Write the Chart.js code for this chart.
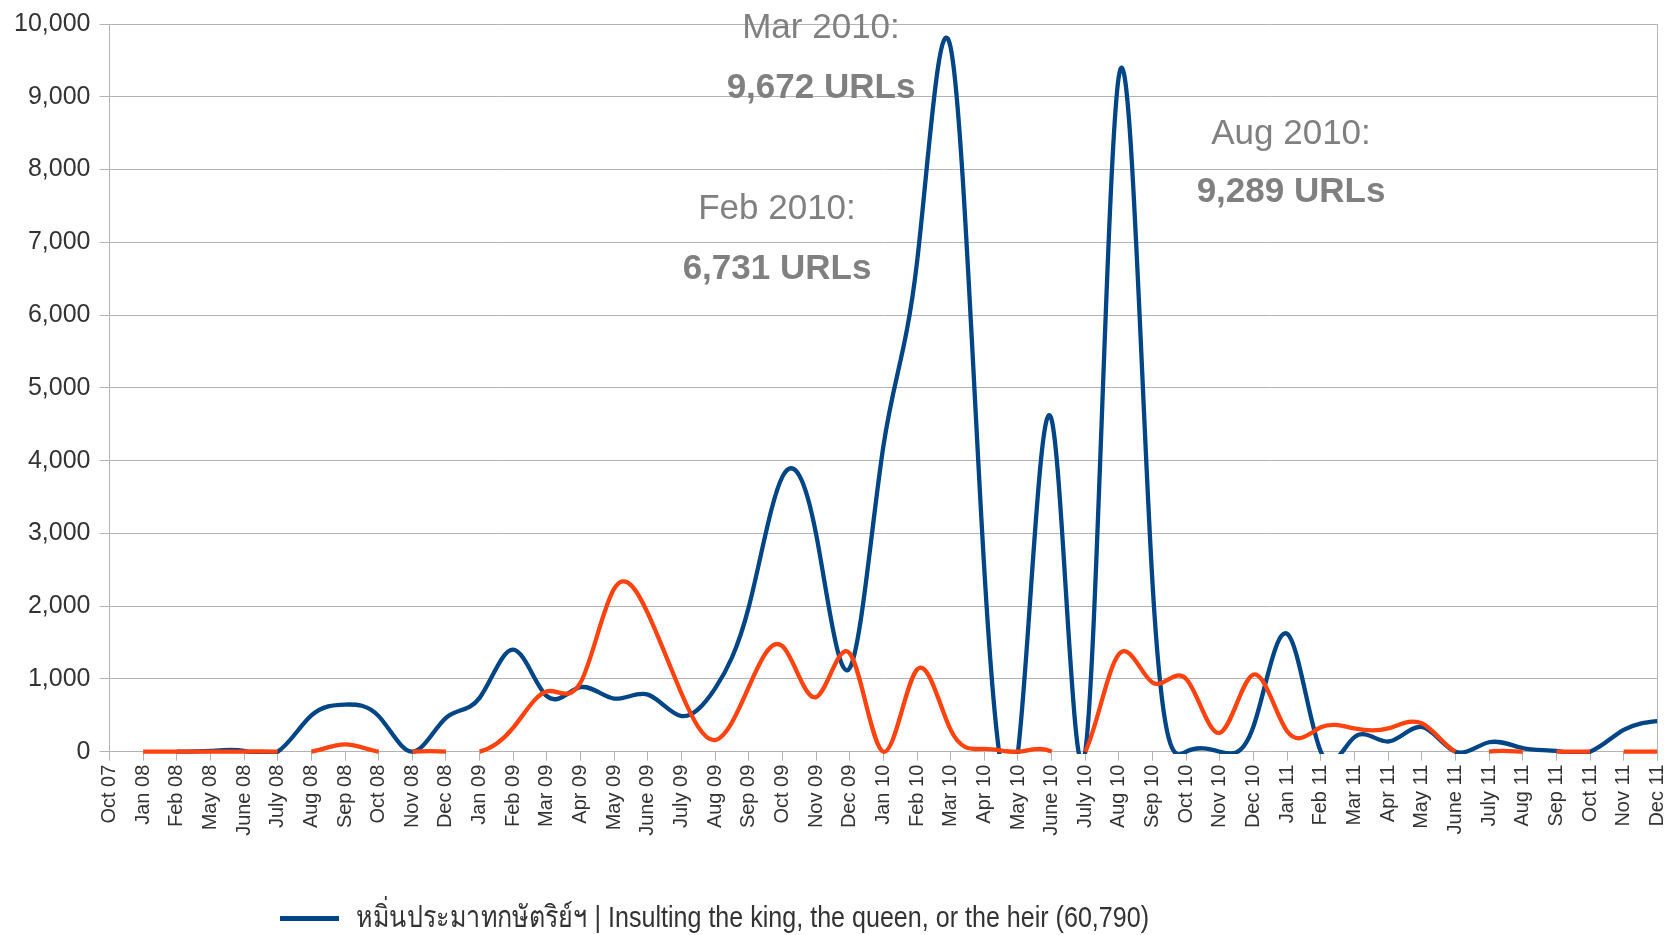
<!DOCTYPE html>
<html>
<head>
<meta charset="utf-8">
<script src="https://cdn.jsdelivr.net/npm/chart.js@4.4.1/dist/chart.umd.min.js"></script>
<style>
  html, body { margin: 0; padding: 0; background: #ffffff; overflow: hidden; }
  #wrap { position: relative; width: 1671px; height: 935px; }
  canvas { display: block; }
</style>
</head>
<body>
<div id="wrap"><canvas id="chart" width="1671" height="935"></canvas></div>
<script>
// ---------------- data ----------------
const categories = ['Oct 07','Jan 08','Feb 08','May 08','June 08','July 08','Aug 08','Sep 08','Oct 08','Nov 08','Dec 08',
  'Jan 09','Feb 09','Mar 09','Apr 09','May 09','June 09','July 09','Aug 09','Sep 09','Oct 09','Nov 09','Dec 09',
  'Jan 10','Feb 10','Mar 10','Apr 10','May 10','June 10','July 10','Aug 10','Sep 10','Oct 10','Nov 10','Dec 10',
  'Jan 11','Feb 11','Mar 11','Apr 11','May 11','June 11','July 11','Aug 11','Sep 11','Oct 11','Nov 11','Dec 11'];

const insultingUrls = [null, 0, 0, 10, 10, 0, 498, 648, 489, 0, 466,
  740, 1402, 762, 886, 730, 785, 490, 870, 1990, 3780, 2990, 1150,
  4200, 6731, 9672, 2500, 0, 4560, 0, 9289, 2300, 0, 0, 350,
  1620, 0, 200, 140, 340, 0, 130, 50, 10, 0, 300, 420];

const otherUrls = [null, 2, 2, 2, 2, 0, 0, 100, 0, 0, 0,
  0, 330, 830, 950, 2240, 1900, 800, 160, 890, 1450, 750, 1350,
  0, 1130, 300, 40, 0, 0, 0, 1340, 950, 1000, 260, 1060,
  280, 335, 320, 320, 390, 0, 0, 0, 0, 0, 0, 0];

const seriesLabels = ['หมิ่นประมาทกษัตริย์ฯ | Insulting the king, the queen, or the heir (60,790)', 'Other'];
const seriesColors = ['#004586', '#ff420e'];

const yTickValues = [0, 1000, 2000, 3000, 4000, 5000, 6000, 7000, 8000, 9000, 10000];

const calloutTitles = ['Mar 2010:', 'Feb 2010:', 'Aug 2010:'];
const calloutValues = ['9,672 URLs', '6,731 URLs', '9,289 URLs'];

// ---------------- natural cubic spline (uniform x) ----------------
function naturalSecondDerivs(f) {
  const n = f.length;
  const M = new Array(n).fill(0);
  if (n < 3) return M;
  const m = n - 2;
  const a = [], b = [], c = [], d = [];
  for (let i = 1; i <= n - 2; i++) {
    a.push(1); b.push(4); c.push(1);
    d.push(6 * (f[i + 1] - 2 * f[i] + f[i - 1]));
  }
  for (let i = 1; i < m; i++) {
    const w = a[i] / b[i - 1];
    b[i] -= w * c[i - 1];
    d[i] -= w * d[i - 1];
  }
  const x = new Array(m);
  x[m - 1] = d[m - 1] / b[m - 1];
  for (let i = m - 2; i >= 0; i--) x[i] = (d[i] - c[i] * x[i + 1]) / b[i];
  for (let i = 0; i < m; i++) M[i + 1] = x[i];
  return M;
}

const splinePlugin = {
  id: 'naturalSpline',
  beforeDatasetDraw(chart, args) {
    const meta = args.meta;
    const line = meta.dataset;
    const pts = meta.data;
    const vals = chart.data.datasets[args.index].data;
    const xs = chart.scales.x, ys = chart.scales.y;
    const hidden = [];
    let k = 0;
    while (k < vals.length) {
      if (vals[k] === null) { k++; continue; }
      let e = k;
      while (e + 1 < vals.length && vals[e + 1] !== null) e++;
      const f = vals.slice(k, e + 1);
      const M = naturalSecondDerivs(f);
      for (let j = 0; j < f.length - 1; j++) {
        const i = k + j;
        const y0 = f[j], y1 = f[j + 1], M0 = M[j], M1 = M[j + 1];
        const D0 = (y1 - y0) - (2 * M0 + M1) / 6;
        const D1 = (y1 - y0) + (M0 + 2 * M1) / 6;
        pts[i].cp2x = xs.getPixelForValue(i + 1 / 3);
        pts[i].cp2y = ys.getPixelForValue(y0 + D0 / 3);
        pts[i + 1].cp1x = xs.getPixelForValue(i + 1 - 1 / 3);
        pts[i + 1].cp1y = ys.getPixelForValue(y1 - D1 / 3);
        if (y0 === 0 && y1 === 0) {
          let mn = 0, mx = 0;
          for (let s = 0.02; s < 1; s += 0.02) {
            const v = -(s * (1 - s) / 6) * (M0 * (2 - s) + M1 * (1 + s));
            if (v < mn) mn = v;
            if (v > mx) mx = v;
          }
          hidden[i] = (mn < -1e-9 && mx <= 1e-9);
        }
      }
      pts[k].cp1x = pts[k].x; pts[k].cp1y = pts[k].y;
      pts[e].cp2x = pts[e].x; pts[e].cp2y = pts[e].y;
      k = e + 1;
    }
    chart.$splineHidden = chart.$splineHidden || {};
    chart.$splineHidden[args.index] = hidden;
    line._pointsUpdated = true;
    line._segments = undefined;
    line._path = undefined;
  }
};

function segColor(ctx) {
  const h = ctx.chart.$splineHidden && ctx.chart.$splineHidden[ctx.datasetIndex];
  if (h && h[ctx.p0DataIndex]) return 'rgba(0,0,0,0)';
  return seriesColors[ctx.datasetIndex];
}

// ---------------- overlay texts (callouts + legend) ----------------
const overlayPlugin = {
  id: 'overlayText',
  afterDraw(chart) {
    const c = chart.ctx;
    c.save();
    const pos = [
      { x: 821, y1: 37.5, y2: 97.5 },
      { x: 777, y1: 218.5, y2: 278.5 },
      { x: 1291, y1: 143.5, y2: 202 }
    ];
    c.fillStyle = '#808080';
    c.textAlign = 'center';
    c.textBaseline = 'alphabetic';
    calloutTitles.forEach((t, i) => {
      c.font = '35px "Liberation Sans", Arial, sans-serif';
      c.fillText(t, pos[i].x, pos[i].y1);
      c.font = 'bold 35px "Liberation Sans", Arial, sans-serif';
      c.fillText(calloutValues[i], pos[i].x, pos[i].y2);
    });
    // legend (first series)
    c.strokeStyle = seriesColors[0];
    c.lineWidth = 5;
    c.beginPath();
    c.moveTo(280, 918.5);
    c.lineTo(339, 918.5);
    c.stroke();
    c.fillStyle = '#333333';
    c.textAlign = 'left';
    c.textBaseline = 'middle';
    c.font = '30px "Liberation Sans Narrow", "Arial Narrow", "Liberation Sans", sans-serif';
    c.fillText(seriesLabels[0], 356, 919, 793);
    c.restore();
  }
};

// ---------------- chart ----------------
const gridGray = '#b3b3b3';
const lastIdx = categories.length - 1;

new Chart(document.getElementById('chart'), {
  type: 'line',
  data: {
    labels: categories,
    datasets: [
      {
        label: seriesLabels[0],
        data: insultingUrls,
        borderColor: seriesColors[0],
        backgroundColor: seriesColors[0],
        borderWidth: 4.3,
        tension: 0.4,
        pointRadius: 0,
        pointHoverRadius: 0,
        spanGaps: false,
        fill: false,
        order: 1,
        borderJoinStyle: 'round',
        clip: { left: 0, top: 0, right: 0, bottom: 2.2 },
        segment: { borderColor: segColor }
      },
      {
        label: seriesLabels[1],
        data: otherUrls,
        borderColor: seriesColors[1],
        backgroundColor: seriesColors[1],
        borderWidth: 4.3,
        tension: 0.4,
        pointRadius: 0,
        pointHoverRadius: 0,
        spanGaps: false,
        fill: false,
        order: 0,
        borderJoinStyle: 'round',
        clip: { left: 0, top: 0, right: 0, bottom: 2.2 },
        segment: { borderColor: segColor }
      }
    ]
  },
  options: {
    responsive: false,
    maintainAspectRatio: false,
    devicePixelRatio: 1,
    animation: false,
    events: [],
    layout: { padding: { top: 21.7, right: 13.7, left: 0, bottom: 0 } },
    plugins: {
      legend: { display: false },
      tooltip: { enabled: false },
      title: { display: false }
    },
    scales: {
      x: {
        type: 'category',
        offset: false,
        afterFit: (s) => { s.height = 935 - 751.7; s.paddingLeft = 0; s.paddingRight = 0; },
        grid: {
          display: true,
          drawOnChartArea: true,
          drawTicks: true,
          tickLength: 9,
          lineWidth: 1,
          color: (ctx) => (ctx.index === lastIdx ? gridGray : 'rgba(0,0,0,0)'),
          tickColor: gridGray
        },
        border: { display: true, color: gridGray, width: 1 },
        ticks: {
          autoSkip: false,
          maxRotation: 90,
          minRotation: 90,
          padding: 4,
          color: '#333333',
          font: { family: '"Liberation Sans", Arial, sans-serif', size: 20 }
        }
      },
      y: {
        min: 0,
        max: 10000,
        afterFit: (s) => { s.width = 109.5; },
        afterBuildTicks: (s) => { s.ticks = yTickValues.map(v => ({ value: v })); },
        grid: {
          color: gridGray,
          lineWidth: 1,
          tickLength: 10,
          drawTicks: true
        },
        border: { display: true, color: gridGray, width: 1 },
        ticks: {
          padding: 9,
          color: '#333333',
          font: { family: '"Liberation Sans", Arial, sans-serif', size: 25 },
          callback: (v) => Number(v).toLocaleString('en-US')
        }
      }
    }
  },
  plugins: [splinePlugin, overlayPlugin]
});
</script>
</body>
</html>
